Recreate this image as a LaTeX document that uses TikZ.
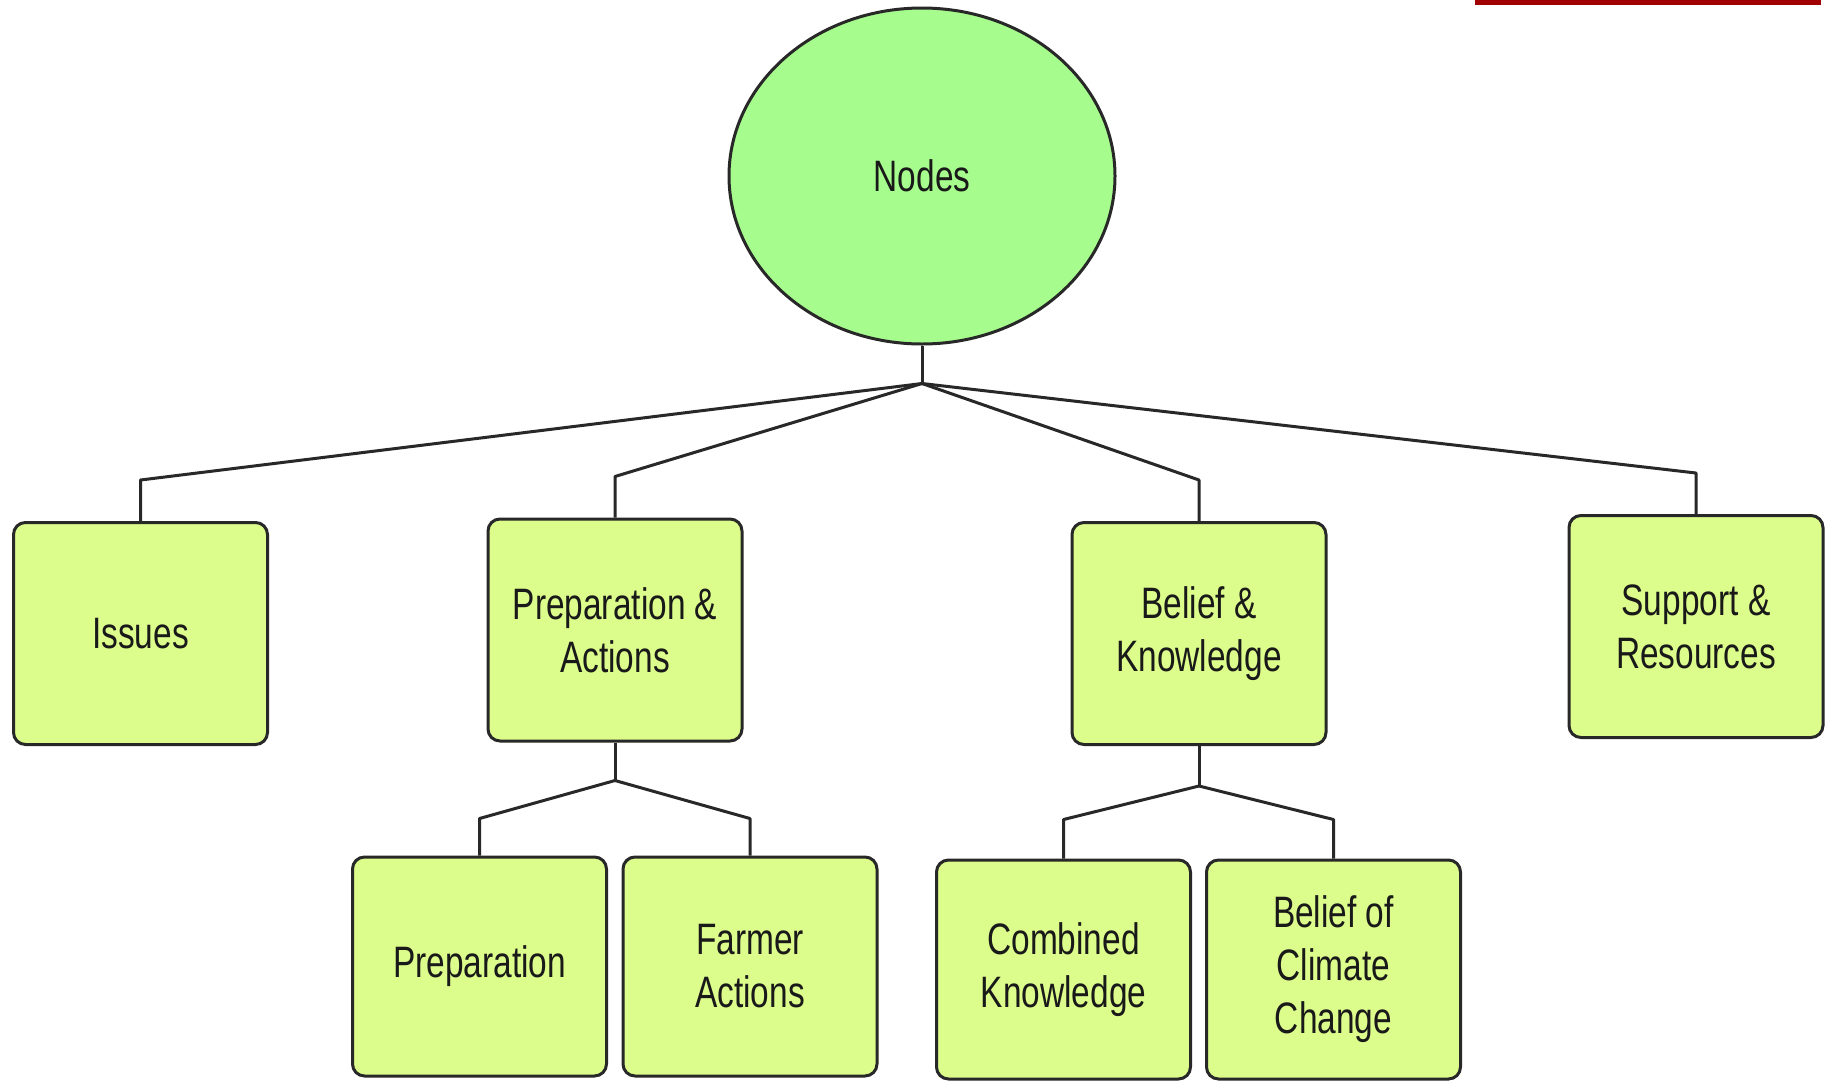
\documentclass[tikz,border=0pt]{standalone}
\usepackage{fontspec}
\setmainfont{Liberation Sans}[FakeStretch=0.76]
\usetikzlibrary{shapes.geometric}

\definecolor{rootgreen}{RGB}{166,252,140}
\definecolor{boxgreen}{RGB}{220,252,140}
\definecolor{edgegray}{RGB}{40,40,40}
\definecolor{barred}{RGB}{160,0,0}

\begin{document}
\begin{tikzpicture}[x=1pt,y=-1pt,
    box/.style={draw=edgegray,line width=3pt,fill=boxgreen,rounded corners=12pt,
        minimum width=254pt,minimum height=222pt,align=center,
        font=\fontsize{44}{53}\selectfont,text=black!90},
    subbox/.style={box,minimum height=219pt},
    root/.style={ellipse,draw=edgegray,line width=3pt,fill=rootgreen,
        minimum width=386pt,minimum height=336pt,
        font=\fontsize{44}{53}\selectfont,text=black!90},
    link/.style={draw=edgegray,line width=3pt,line join=round}]
    \useasboundingbox (0,0) rectangle (1829,1080);
    \fill[barred] (1475,0) rectangle (1821,4.5);

    % top
    \node[root] (nodes) at (922,176) {Nodes};
    \coordinate (hub) at ([yshift=-38pt]nodes.south);

    % first row
    \node[box] (issues) at (140.5,633.5) {Issues};
    \node[box] (prepact) at (615,630) {Preparation \&\\Actions};
    \node[box] (belknow) at (1199,633.5) {Belief \&\\Knowledge};
    \node[box] (supres) at (1696,626.5) {Support \&\\Resources};

    % second row
    \node[subbox] (prep) at (479.5,966.5) {Preparation};
    \node[subbox] (farmact) at (750,966.5) {Farmer\\Actions};
    \node[subbox] (combknow) at (1063.5,969.5) {Combined\\Knowledge};
    \node[subbox] (belclim) at (1333.5,969.5) {Belief of\\Climate\\Change};

    \draw[link] (nodes.south) -- (hub);
    \draw[link] (hub) -- ([yshift=41pt]issues.north) -- (issues.north);
    \draw[link] (hub) -- ([yshift=41pt]prepact.north) -- (prepact.north);
    \draw[link] (hub) -- ([yshift=41pt]belknow.north) -- (belknow.north);
    \draw[link] (hub) -- ([yshift=41pt]supres.north) -- (supres.north);

    \coordinate (pahub) at ([yshift=-38pt]prepact.south);
    \draw[link] (prepact.south) -- (pahub);
    \draw[link] (pahub) -- ([yshift=37pt]prep.north) -- (prep.north);
    \draw[link] (pahub) -- ([yshift=37pt]farmact.north) -- (farmact.north);

    \coordinate (bkhub) at ([yshift=-40pt]belknow.south);
    \draw[link] (belknow.south) -- (bkhub);
    \draw[link] (bkhub) -- ([yshift=39pt]combknow.north) -- (combknow.north);
    \draw[link] (bkhub) -- ([yshift=39pt]belclim.north) -- (belclim.north);
\end{tikzpicture}
\end{document}
